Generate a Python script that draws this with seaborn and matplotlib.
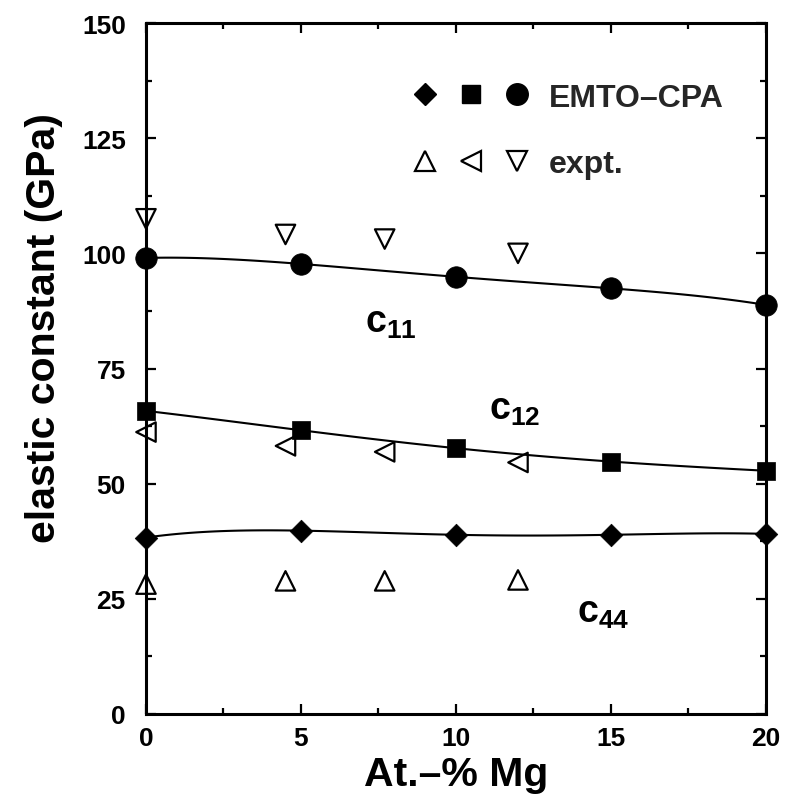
import numpy as np
import matplotlib
matplotlib.use("Agg")
import matplotlib.pyplot as plt
from matplotlib.lines import Line2D
from matplotlib.legend_handler import HandlerTuple
from matplotlib.ticker import MultipleLocator
import seaborn as sns

# EMTO-CPA calculated elastic constants (GPa) vs Mg content (at.-%)
calc_x = [0, 5, 10, 15, 20]
c11_calc = [99.0, 97.7, 94.9, 92.4, 88.8]
c12_calc = [65.8, 61.6, 57.7, 54.8, 52.8]
c44_calc = [38.3, 39.8, 38.9, 38.9, 39.1]

# experimental values
expt_x = [0, 4.5, 7.7, 12.0]
c11_expt = [107.5, 104.1, 103.1, 100.0]
c12_expt = [61.2, 58.2, 56.9, 54.6]
c44_expt = [28.2, 28.9, 28.9, 29.1]

x_ticks = [0, 5, 10, 15, 20]
y_ticks = [0, 25, 50, 75, 100, 125, 150]

sns.set_theme(style="ticks")
plt.rcParams["font.family"] = ["Liberation Sans", "DejaVu Sans"]
plt.rcParams["font.weight"] = "bold"
plt.rcParams["mathtext.fontset"] = "custom"
plt.rcParams["mathtext.bf"] = "Liberation Sans:bold"
plt.rcParams["mathtext.rm"] = "Liberation Sans:bold"

fig = plt.figure(figsize=(7.99, 8.03), dpi=100)
ax = fig.add_axes([0.1827, 0.1096, 0.9587 - 0.1827, 0.9701 - 0.1096])

# fitted curves through the calculated points
for ys in (c11_calc, c12_calc, c44_calc):
    sns.regplot(x=np.array(calc_x, float), y=np.array(ys), order=4, ci=None,
                scatter=False, ax=ax, truncate=True,
                line_kws=dict(color="black", lw=1.5, zorder=2))

filled = dict(color="black", edgecolor="black", linewidth=0.5, clip_on=False, zorder=4)
sns.scatterplot(x=calc_x, y=c11_calc, marker="o", s=15.5**2, ax=ax, **filled)
sns.scatterplot(x=calc_x, y=c12_calc, marker="s", s=13**2, ax=ax, **filled)
sns.scatterplot(x=calc_x, y=c44_calc, marker="D", s=11.5**2, ax=ax, **filled)

hollow = dict(facecolor="none", edgecolor="black", linewidth=1.6, clip_on=False, zorder=4)
sns.scatterplot(x=expt_x, y=c11_expt, marker="v", s=14**2, ax=ax, **hollow)
sns.scatterplot(x=expt_x, y=c12_expt, marker="<", s=14**2, ax=ax, **hollow)
sns.scatterplot(x=expt_x, y=c44_expt, marker="^", s=14**2, ax=ax, **hollow)

ax.set_xlim(0, 20)
ax.set_ylim(0, 150)
ax.set_xticks(x_ticks)
ax.set_yticks(y_ticks)
ax.xaxis.set_minor_locator(MultipleLocator(2.5))
ax.yaxis.set_minor_locator(MultipleLocator(12.5))
ax.tick_params(which="both", direction="in", top=True, right=True, width=1.6,
               color="black")
ax.tick_params(which="major", length=7.5, labelsize=19, labelcolor="black")
ax.tick_params(axis="x", which="major", pad=9)
ax.tick_params(axis="y", which="major", pad=14.5)
ax.tick_params(which="minor", length=4)
for lab in ax.get_xticklabels() + ax.get_yticklabels():
    lab.set_fontweight("bold")
for sp in ax.spines.values():
    sp.set_linewidth(2.2)
    sp.set_color("black")
    sp.set_visible(True)

ax.set_xlabel("At.–% Mg", fontsize=29.5, fontweight="bold", color="black", labelpad=3)
ax.set_ylabel("elastic constant (GPa)", fontsize=29.5, fontweight="bold", color="black")
ax.yaxis.set_label_coords(-0.134, 0.56)

# curve labels
lab_kw = dict(fontsize=27, color="black", ha="left", va="baseline")
ax.text(7.05, 82.9, r"$\mathbf{c}_{\mathbf{11}}$", **lab_kw)
ax.text(11.05, 64.0, r"$\mathbf{c}_{\mathbf{12}}$", **lab_kw)
ax.text(13.9, 20.0, r"$\mathbf{c}_{\mathbf{44}}$", **lab_kw)

# legend: grouped marker symbols per data source
mk = dict(linestyle="none", color="black")
calc_handles = (Line2D([], [], marker="D", markersize=11.5, **mk),
                Line2D([], [], marker="s", markersize=13, **mk),
                Line2D([], [], marker="o", markersize=15.5, **mk))
op = dict(linestyle="none", markerfacecolor="none", markeredgecolor="black",
          markeredgewidth=1.6)
expt_handles = (Line2D([], [], marker="^", markersize=14, **op),
                Line2D([], [], marker="<", markersize=14, **op),
                Line2D([], [], marker="v", markersize=14, **op))
leg = ax.legend([calc_handles, expt_handles], ["EMTO–CPA", "expt."],
                handler_map={tuple: HandlerTuple(ndivide=None, pad=0)},
                frameon=False, fontsize=23, handlelength=4.3, handletextpad=0.3,
                labelspacing=1.15, borderpad=0, borderaxespad=0,
                loc="center left", bbox_to_anchor=(0.413, 0.8437))
for t in leg.get_texts():
    t.set_fontweight("bold")

fig.savefig("out.png", dpi=100, facecolor="white")
